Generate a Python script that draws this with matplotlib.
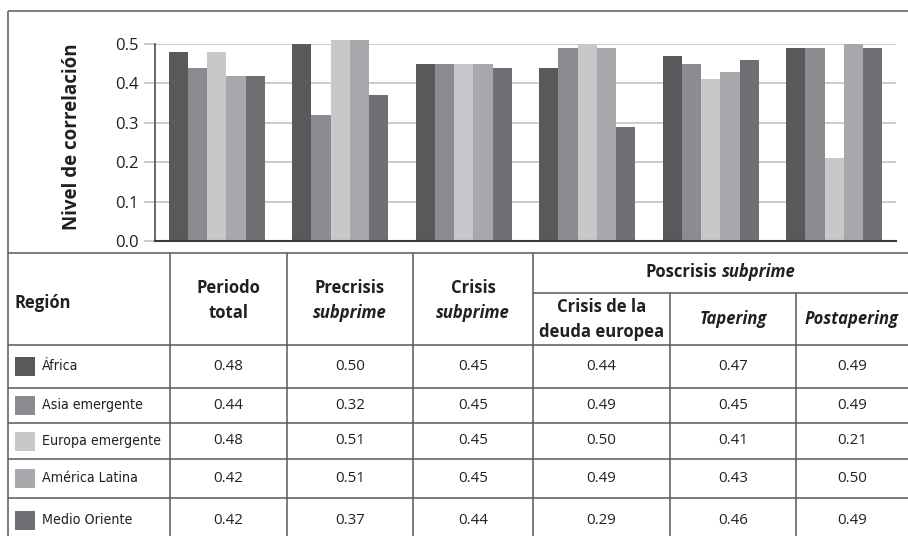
import numpy as np
import matplotlib.pyplot as plt
from matplotlib.patches import Rectangle

plt.rcParams['font.family'] = ['Open Sans', 'DejaVu Sans']

# correlation by region and period
regiones = ["África", "Asia emergente", "Europa emergente", "América Latina", "Medio Oriente"]
africa = [0.48, 0.50, 0.45, 0.44, 0.47, 0.49]
asia = [0.44, 0.32, 0.45, 0.49, 0.45, 0.49]
europa = [0.48, 0.51, 0.45, 0.50, 0.41, 0.21]
america = [0.42, 0.51, 0.45, 0.49, 0.43, 0.50]
medio = [0.42, 0.37, 0.44, 0.29, 0.46, 0.49]
series = [africa, asia, europa, america, medio]
colores = ["#58595b", "#8b8c90", "#c7c8ca", "#a7a8ac", "#6f7074"]
yticks = [0.0, 0.1, 0.2, 0.3, 0.4, 0.5]

W, H = 908, 536
fig = plt.figure(figsize=(W / 100, H / 100), dpi=100)
fig.patch.set_facecolor("white")

# pixel-based canvas for the frame and the table
tab = fig.add_axes([0, 0, 1, 1])
tab.set_xlim(0, W)
tab.set_ylim(H, 0)
tab.axis("off")

linecol = "#58585a"
txtcol = "#231f20"
lw = 1.1

def hline(y, x0=8, x1=W):
    tab.plot([x0, x1], [y, y], color=linecol, lw=lw, solid_capstyle="butt")

def vline(x, y0, y1=H):
    tab.plot([x, x], [y0, y1], color=linecol, lw=lw, solid_capstyle="butt")

# outer frame
hline(11)
vline(8, 11)
hline(253)

# table grid
cols = [170, 287, 413, 533, 670, 796, W]
for x in cols[:4]:
    vline(x, 253)
for x in cols[4:6]:
    vline(x, 293)
hline(293, 533, W)
filas = [345, 388, 423, 459, 498, 541]
for y in filas[:-1]:
    hline(y)

centros = [(a + b) / 2 for a, b in zip(cols[:-1], cols[1:])]

hdr = dict(fontsize=12, fontweight="bold", color=txtcol, va="center")
tab.text(15, 303, "Región", ha="left", **hdr)
tab.text(centros[0], 288, "Periodo", ha="center", **hdr)
tab.text(centros[0], 313, "total", ha="center", **hdr)
tab.text(centros[1], 288, "Precrisis", ha="center", **hdr)
tab.text(centros[1], 313, "subprime", ha="center", style="italic", **hdr)
tab.text(centros[2], 288, "Crisis", ha="center", **hdr)
tab.text(centros[2], 313, "subprime", ha="center", style="italic", **hdr)
tab.text(centros[3], 307, "Crisis de la", ha="center", **hdr)
tab.text(centros[3], 332, "deuda europea", ha="center", **hdr)
tab.text(centros[4], 319, "Tapering", ha="center", style="italic", **hdr)
tab.text(centros[5], 319, "Postapering", ha="center", style="italic", **hdr)

# "Poscrisis subprime" spans the last three columns, mixed upright/italic
renderer = fig.canvas.get_renderer()
t1 = tab.text(0, 272, "Poscrisis", ha="left", **hdr)
t2 = tab.text(0, 272, "subprime", ha="left", style="italic", **hdr)
w1 = t1.get_window_extent(renderer).width
w2 = t2.get_window_extent(renderer).width
gap = 4
x0 = (533 + W) / 2 - (w1 + gap + w2) / 2
t1.set_x(x0)
t2.set_x(x0 + w1 + gap)

# data rows
for i, (reg, vals, color) in enumerate(zip(regiones, series, colores)):
    yc = (filas[i] + filas[i + 1]) / 2
    if i == len(regiones) - 1:
        yc = 520
    tab.add_patch(Rectangle((15, yc - 9.5), 20, 19, color=color, lw=0))
    tab.text(42, yc, reg, ha="left", va="center", fontsize=10.2, color=txtcol,
             family=["DejaVu Sans Condensed", "DejaVu Sans"], fontstretch="condensed")
    for xc, v in zip(centros, vals):
        tab.text(xc, yc, f"{v:.2f}", ha="center", va="center", fontsize=10.8, color=txtcol)

# grouped bar chart
ax = fig.add_axes([155 / W, 1 - 241 / H, 741 / W, 197 / H])
ax.set_facecolor("none")
x = np.arange(len(africa))
w = 0.156
for i, (vals, color) in enumerate(zip(series, colores)):
    ax.bar(x + (i - 2) * w, vals, w, color=color, lw=0, zorder=3, clip_on=False)

ax.set_xlim(-0.5, 5.5)
ax.set_ylim(0, 0.5)
ax.set_xticks([])
ax.set_yticks(yticks)
ax.set_yticklabels([f"{t:.1f}" for t in yticks])
ax.yaxis.grid(True, color="#c8c8ca", lw=1.3)
ax.set_axisbelow(True)
for s in ["top", "right"]:
    ax.spines[s].set_visible(False)
ax.spines["left"].set_color("#4d4d4f")
ax.spines["left"].set_linewidth(1.2)
ax.spines["bottom"].set_color("#3a3a3c")
ax.spines["bottom"].set_linewidth(1.5)
ax.spines["bottom"].set_zorder(4)
ax.tick_params(axis="y", length=8, width=1.3, color="#c8c8ca", pad=4,
               labelsize=12, labelcolor=txtcol)
ax.yaxis.get_major_ticks()[0].tick1line.set_color("#3a3a3c")

fig.text(72 / W, 1 - 137 / H, "Nivel de correlación", rotation=90, ha="center",
         va="center", fontsize=13.5, fontweight="bold", color=txtcol)

fig.savefig("out.png", dpi=100)
